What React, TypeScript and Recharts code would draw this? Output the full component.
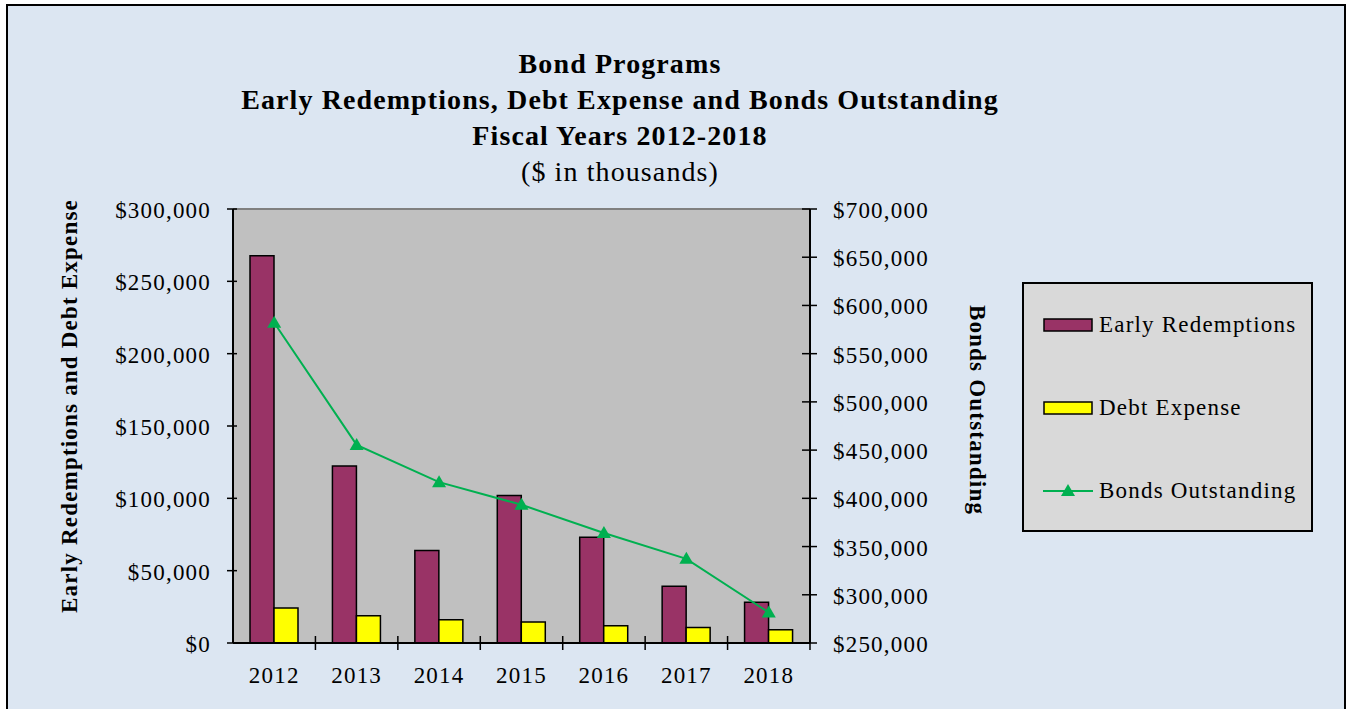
import {
  ComposedChart,
  Bar,
  Line,
  XAxis,
  YAxis,
  CartesianGrid,
  Legend,
  ReferenceLine,
} from "recharts";

const years = ["2012", "2013", "2014", "2015", "2016", "2017", "2018"];
const earlyRedemptions = [267700, 122300, 63900, 102000, 73100, 39200, 28100];
const debtExpense = [24200, 18900, 16100, 14500, 12000, 10800, 9200];
const bondsOutstanding = [582000, 455400, 416800, 393300, 364000, 337300, 281600];

const leftTicks = [0, 50000, 100000, 150000, 200000, 250000, 300000];
const rightTicks = [250000, 300000, 350000, 400000, 450000, 500000, 550000, 600000, 650000, 700000];

const titleLines = [
  "Bond Programs",
  "Early Redemptions, Debt Expense and Bonds Outstanding",
  "Fiscal Years 2012-2018",
];
const subTitle = "($ in thousands)";

const FONT = "'Liberation Serif', 'Times New Roman', serif";
const W = 1347;
const H = 709;
const PLOT_LEFT = 233;
const PLOT_RIGHT = 810;
const BAND = (PLOT_RIGHT - PLOT_LEFT) / years.length;
const TICK_FONT = 23;
const TICK_SPACING = 1.2;

const data = years.map((year, i) => ({
  year,
  early: earlyRedemptions[i],
  debt: debtExpense[i],
  bonds: bondsOutstanding[i],
}));

const money = (v: number) => "$" + v.toLocaleString("en-US");

const LeftTick = (props: any) => {
  const { x, y, payload } = props;
  return (
    <g>
      <line x1={x - 6} x2={x + 4} y1={y} y2={y} stroke="#000" strokeWidth={1.5} />
      <text x={x - 22} y={y} dy={9} textAnchor="end" fontFamily={FONT} fontSize={TICK_FONT} letterSpacing={TICK_SPACING} fill="#000">
        {money(payload.value)}
      </text>
    </g>
  );
};

const RightTick = (props: any) => {
  const { x, y, payload } = props;
  return (
    <g>
      <line x1={x - 8} x2={x + 7} y1={y} y2={y} stroke="#000" strokeWidth={1.5} />
      <text x={x + 23} y={y} dy={9} textAnchor="start" fontFamily={FONT} fontSize={TICK_FONT} letterSpacing={TICK_SPACING} fill="#000">
        {money(payload.value)}
      </text>
    </g>
  );
};

const BottomTick = (props: any) => {
  const { x, y, payload } = props;
  return (
    <g>
      <line x1={x + BAND / 2} x2={x + BAND / 2} y1={y - 7} y2={y + 7} stroke="#000" strokeWidth={1.5} />
      <text x={x} y={y} dy={40} textAnchor="middle" fontFamily={FONT} fontSize={TICK_FONT} letterSpacing={TICK_SPACING} fill="#000">
        {payload.value}
      </text>
    </g>
  );
};

const Triangle = (props: any) => {
  const { cx, cy } = props;
  if (cx == null || cy == null) return null;
  return (
    <polygon
      points={`${cx},${cy - 7} ${cx - 7},${cy + 5} ${cx + 7},${cy + 5}`}
      fill="#00b050"
    />
  );
};

const legendItems = [
  { label: "Early Redemptions", kind: "bar", color: "#993366" },
  { label: "Debt Expense", kind: "bar", color: "#ffff00" },
  { label: "Bonds Outstanding", kind: "line", color: "#00b050" },
];

const renderLegend = () => (
  <div
    style={{
      width: 291,
      height: 250,
      boxSizing: "border-box",
      border: "2px solid #000",
      background: "#d9d9d9",
      fontFamily: FONT,
      position: "relative",
    }}
  >
    {legendItems.map((it, i) => (
      <div
        key={it.label}
        style={{
          position: "absolute",
          left: 19,
          top: 27 + i * 83,
          height: 28,
          display: "flex",
          alignItems: "center",
        }}
      >
        <svg width={50} height={16} style={{ marginRight: 6 }}>
          {it.kind === "bar" ? (
            <rect x={1} y={2} width={48} height={12} fill={it.color} stroke="#000" strokeWidth={1.5} />
          ) : (
            <g>
              <line x1={0} x2={50} y1={8} y2={8} stroke={it.color} strokeWidth={2} />
              <polygon points="25,1 18,13 32,13" fill={it.color} />
            </g>
          )}
        </svg>
        <span style={{ fontSize: TICK_FONT, letterSpacing: TICK_SPACING, color: "#000" }}>{it.label}</span>
      </div>
    ))}
  </div>
);

export default function App() {
  return (
    <div
      style={{
        position: "absolute",
        left: 0,
        top: 0,
        width: W,
        height: H,
        background: "#fff",
        overflow: "hidden",
      }}
    >
      <div
        style={{
          position: "absolute",
          left: 6,
          top: 4,
          width: 1340,
          height: 720,
          boxSizing: "border-box",
          border: "2px solid #000",
          background: "#dce6f2",
        }}
      />
      <div style={{ position: "absolute", left: 0, top: 0 }}>
        <ComposedChart
          width={W}
          height={H}
          data={data}
          margin={{ top: 209, right: 437, bottom: 26, left: 0 }}
          barGap={0}
          style={{ fontFamily: FONT }}
        >
          <CartesianGrid horizontal={false} vertical={false} fill="#c0c0c0" stroke="none" />
          <XAxis
            dataKey="year"
            height={40}
            tickSize={0}
            tickMargin={0}
            tickLine={false}
            axisLine={{ stroke: "#000", strokeWidth: 2 }}
            tick={<BottomTick />}
            interval={0}
          />
          <YAxis
            yAxisId="left"
            orientation="left"
            width={PLOT_LEFT}
            domain={[0, 300000]}
            ticks={leftTicks}
            interval={0}
            tickSize={0}
            tickMargin={0}
            tickLine={false}
            axisLine={{ stroke: "#000", strokeWidth: 2 }}
            tick={<LeftTick />}
          />
          <YAxis
            yAxisId="right"
            orientation="right"
            width={100}
            domain={[250000, 700000]}
            ticks={rightTicks}
            interval={0}
            tickSize={0}
            tickMargin={0}
            tickLine={false}
            axisLine={{ stroke: "#000", strokeWidth: 2 }}
            tick={<RightTick />}
          />
          <ReferenceLine yAxisId="left" y={300000} stroke="#808080" strokeWidth={2} />
          <Bar
            yAxisId="left"
            dataKey="early"
            name="Early Redemptions"
            fill="#993366"
            stroke="#000"
            strokeWidth={1.5}
            barSize={24}
            isAnimationActive={false}
          />
          <Bar
            yAxisId="left"
            dataKey="debt"
            name="Debt Expense"
            fill="#ffff00"
            stroke="#000"
            strokeWidth={1.5}
            barSize={24}
            isAnimationActive={false}
          />
          <Line
            yAxisId="right"
            dataKey="bonds"
            name="Bonds Outstanding"
            stroke="#00b050"
            strokeWidth={2}
            dot={<Triangle />}
            activeDot={false}
            isAnimationActive={false}
          />
          <Legend
            layout="vertical"
            align="center"
            verticalAlign="middle"
            content={renderLegend}
            wrapperStyle={{ left: 1022, top: 282, width: 291, height: 250 }}
          />
        </ComposedChart>
      </div>
      <svg
        width={W}
        height={H}
        style={{ position: "absolute", left: 0, top: 0, pointerEvents: "none" }}
      >
        {titleLines.map((t, i) => (
          <text
            key={t}
            x={620}
            y={73 + i * 36}
            textAnchor="middle"
            fontFamily={FONT}
            fontSize={28}
            fontWeight="bold"
            letterSpacing={1.1}
            fill="#000"
          >
            {t}
          </text>
        ))}
        <text x={620} y={181} textAnchor="middle" fontFamily={FONT} fontSize={28} letterSpacing={1.1} fill="#000">
          {subTitle}
        </text>
        <text
          transform="translate(77 406) rotate(-90)"
          textAnchor="middle"
          fontFamily={FONT}
          fontSize={23}
          fontWeight="bold"
          letterSpacing={1.2}
          fill="#000"
        >
          Early Redemptions  and  Debt  Expense
        </text>
        <text
          transform="translate(970 410) rotate(90)"
          textAnchor="middle"
          fontFamily={FONT}
          fontSize={23}
          fontWeight="bold"
          letterSpacing={1.2}
          fill="#000"
        >
          Bonds  Outstanding
        </text>
      </svg>
    </div>
  );
}
